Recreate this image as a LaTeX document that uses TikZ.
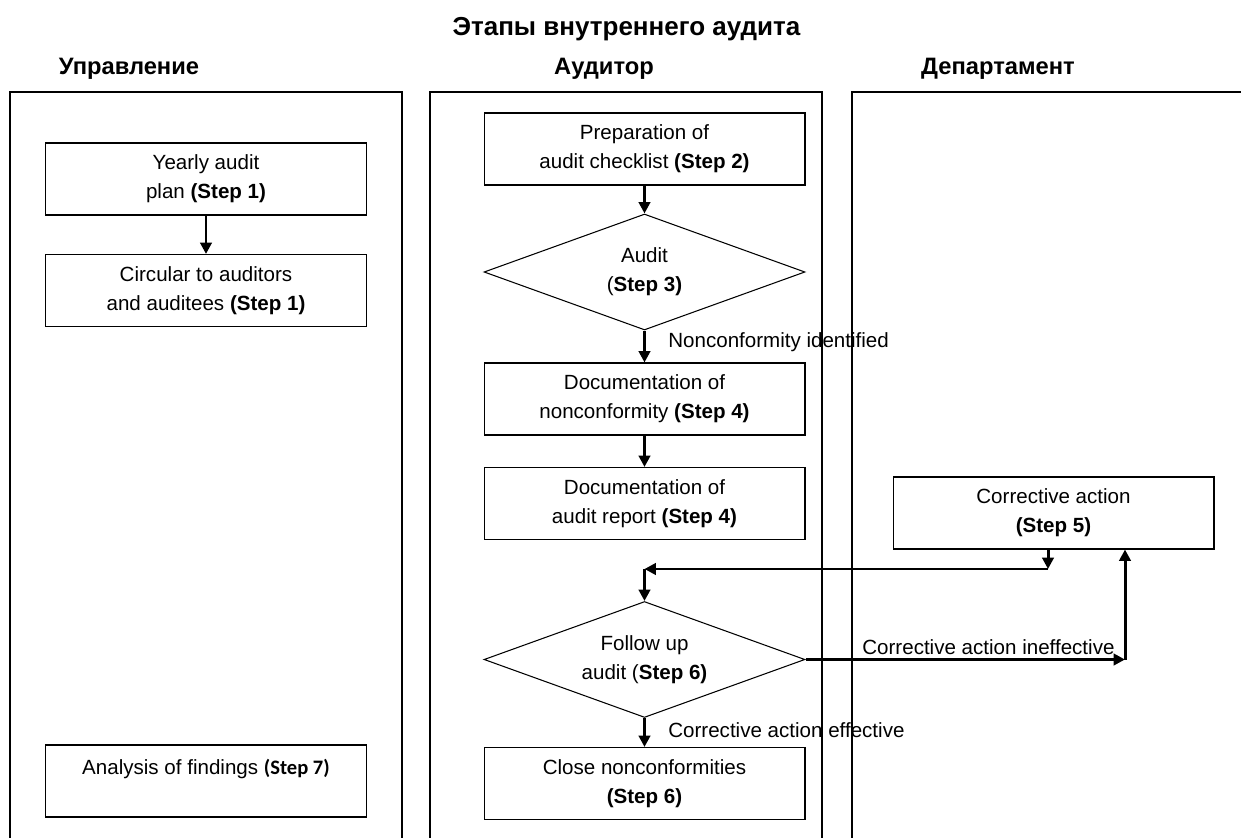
\documentclass[tikz,border=0pt]{standalone}
\usepackage{fontspec}
\setmainfont{Liberation Sans}
\newfontfamily\carlito{Carlito}
\usetikzlibrary{arrows.meta,shapes.geometric}

\begin{document}
\begin{tikzpicture}[x=0.02cm,y=-0.02cm,
  stepbox/.style={draw,line width=0.6pt,minimum width=6.42cm,minimum height=1.44cm,
    align=center,inner sep=0pt,font=\fontsize{11.7}{16.4}\selectfont},
  decision/.style={diamond,draw,line width=0.6pt,aspect=2.77,inner sep=0pt,
    minimum width=6.42cm,minimum height=2.32cm,align=center,font=\fontsize{11.7}{16.4}\selectfont},
  flow/.style={line width=1.7pt,-{Triangle[length=6.5pt,width=6.5pt]}},
  lbl/.style={anchor=west,inner sep=0pt,font=\fontsize{11.7}{14}\selectfont},
  head/.style={anchor=base,font=\fontsize{13.5}{16}\selectfont\bfseries}]
\useasboundingbox (0,0) rectangle (1241,838);
% swimlanes
\draw[line width=0.6pt] (10,850) -- (10,92) -- (402,92) -- (402,850);
\draw[line width=0.6pt] (430,850) -- (430,92) -- (822,92) -- (822,850);
\draw[line width=0.6pt] (852,850) -- (852,92) -- (1260,92);
% titles
\node[anchor=base,font=\fontsize{14.8}{17}\selectfont\bfseries] (title) at (626.5,36) {Этапы внутреннего аудита};
\node[head] (mgmt) at (129,75) {Управление};
\node[head] (auditor) at (604,75) {Аудитор};
\node[head] (dept) at (998,75) {Департамент};
% steps
\node[stepbox] (plan) at (206,179) {Yearly audit\\plan \textbf{(Step 1)}};
\node[stepbox] (circular) at (206,290.5) {Circular to auditors\\and auditees \textbf{(Step 1)}};
\node[stepbox] (findings) at (206,781) {Analysis of findings {\carlito\bfseries(Step 7)}\\~};
\node[stepbox] (checklist) at (644.5,149) {Preparation of\\audit checklist \textbf{(Step 2)}};
\node[decision] (audit) at (644.5,272) {Audit\\(\textbf{Step 3)}};
\node[stepbox] (docnc) at (644.5,399) {Documentation of\\nonconformity \textbf{(Step 4)}};
\node[stepbox] (report) at (644.5,503.5) {Documentation of\\audit report \textbf{(Step 4)}};
\node[decision] (followup) at (644.5,659.5) {Follow up\\audit (\textbf{Step 6)}};
\node[stepbox] (close) at (644.5,783.5) {Close nonconformities\\\textbf{(Step 6)}};
\node[stepbox] (corrective) at (1053.5,513) {Corrective action\\\textbf{(Step 5)}};
% corners
\coordinate (back) at (1048,569);
\coordinate (join) at (644.5,569);
\coordinate (turn) at (1125,659.5);
% arrows
\draw[flow] (plan) -- (circular);
\draw[flow] (checklist) -- (audit);
\draw[flow] (audit) -- (docnc);
\draw[flow] (docnc) -- (report);
\draw[flow] (followup) -- (close);
\draw[flow] (corrective.south -| back) -- (back);
\draw[flow] (back) -- (join);
\draw[flow] (join) -- (followup);
\draw[flow] (followup.east) -- (turn);
\draw[flow] (turn) -- (corrective.south -| turn);
% labels
\node[lbl] (identified) at (668,342) {Nonconformity identified};
\node[lbl] (effective) at (668,730) {Corrective action effective};
\node[lbl] (ineffective) at (862,647) {Corrective action ineffective};
\end{tikzpicture}
\end{document}
